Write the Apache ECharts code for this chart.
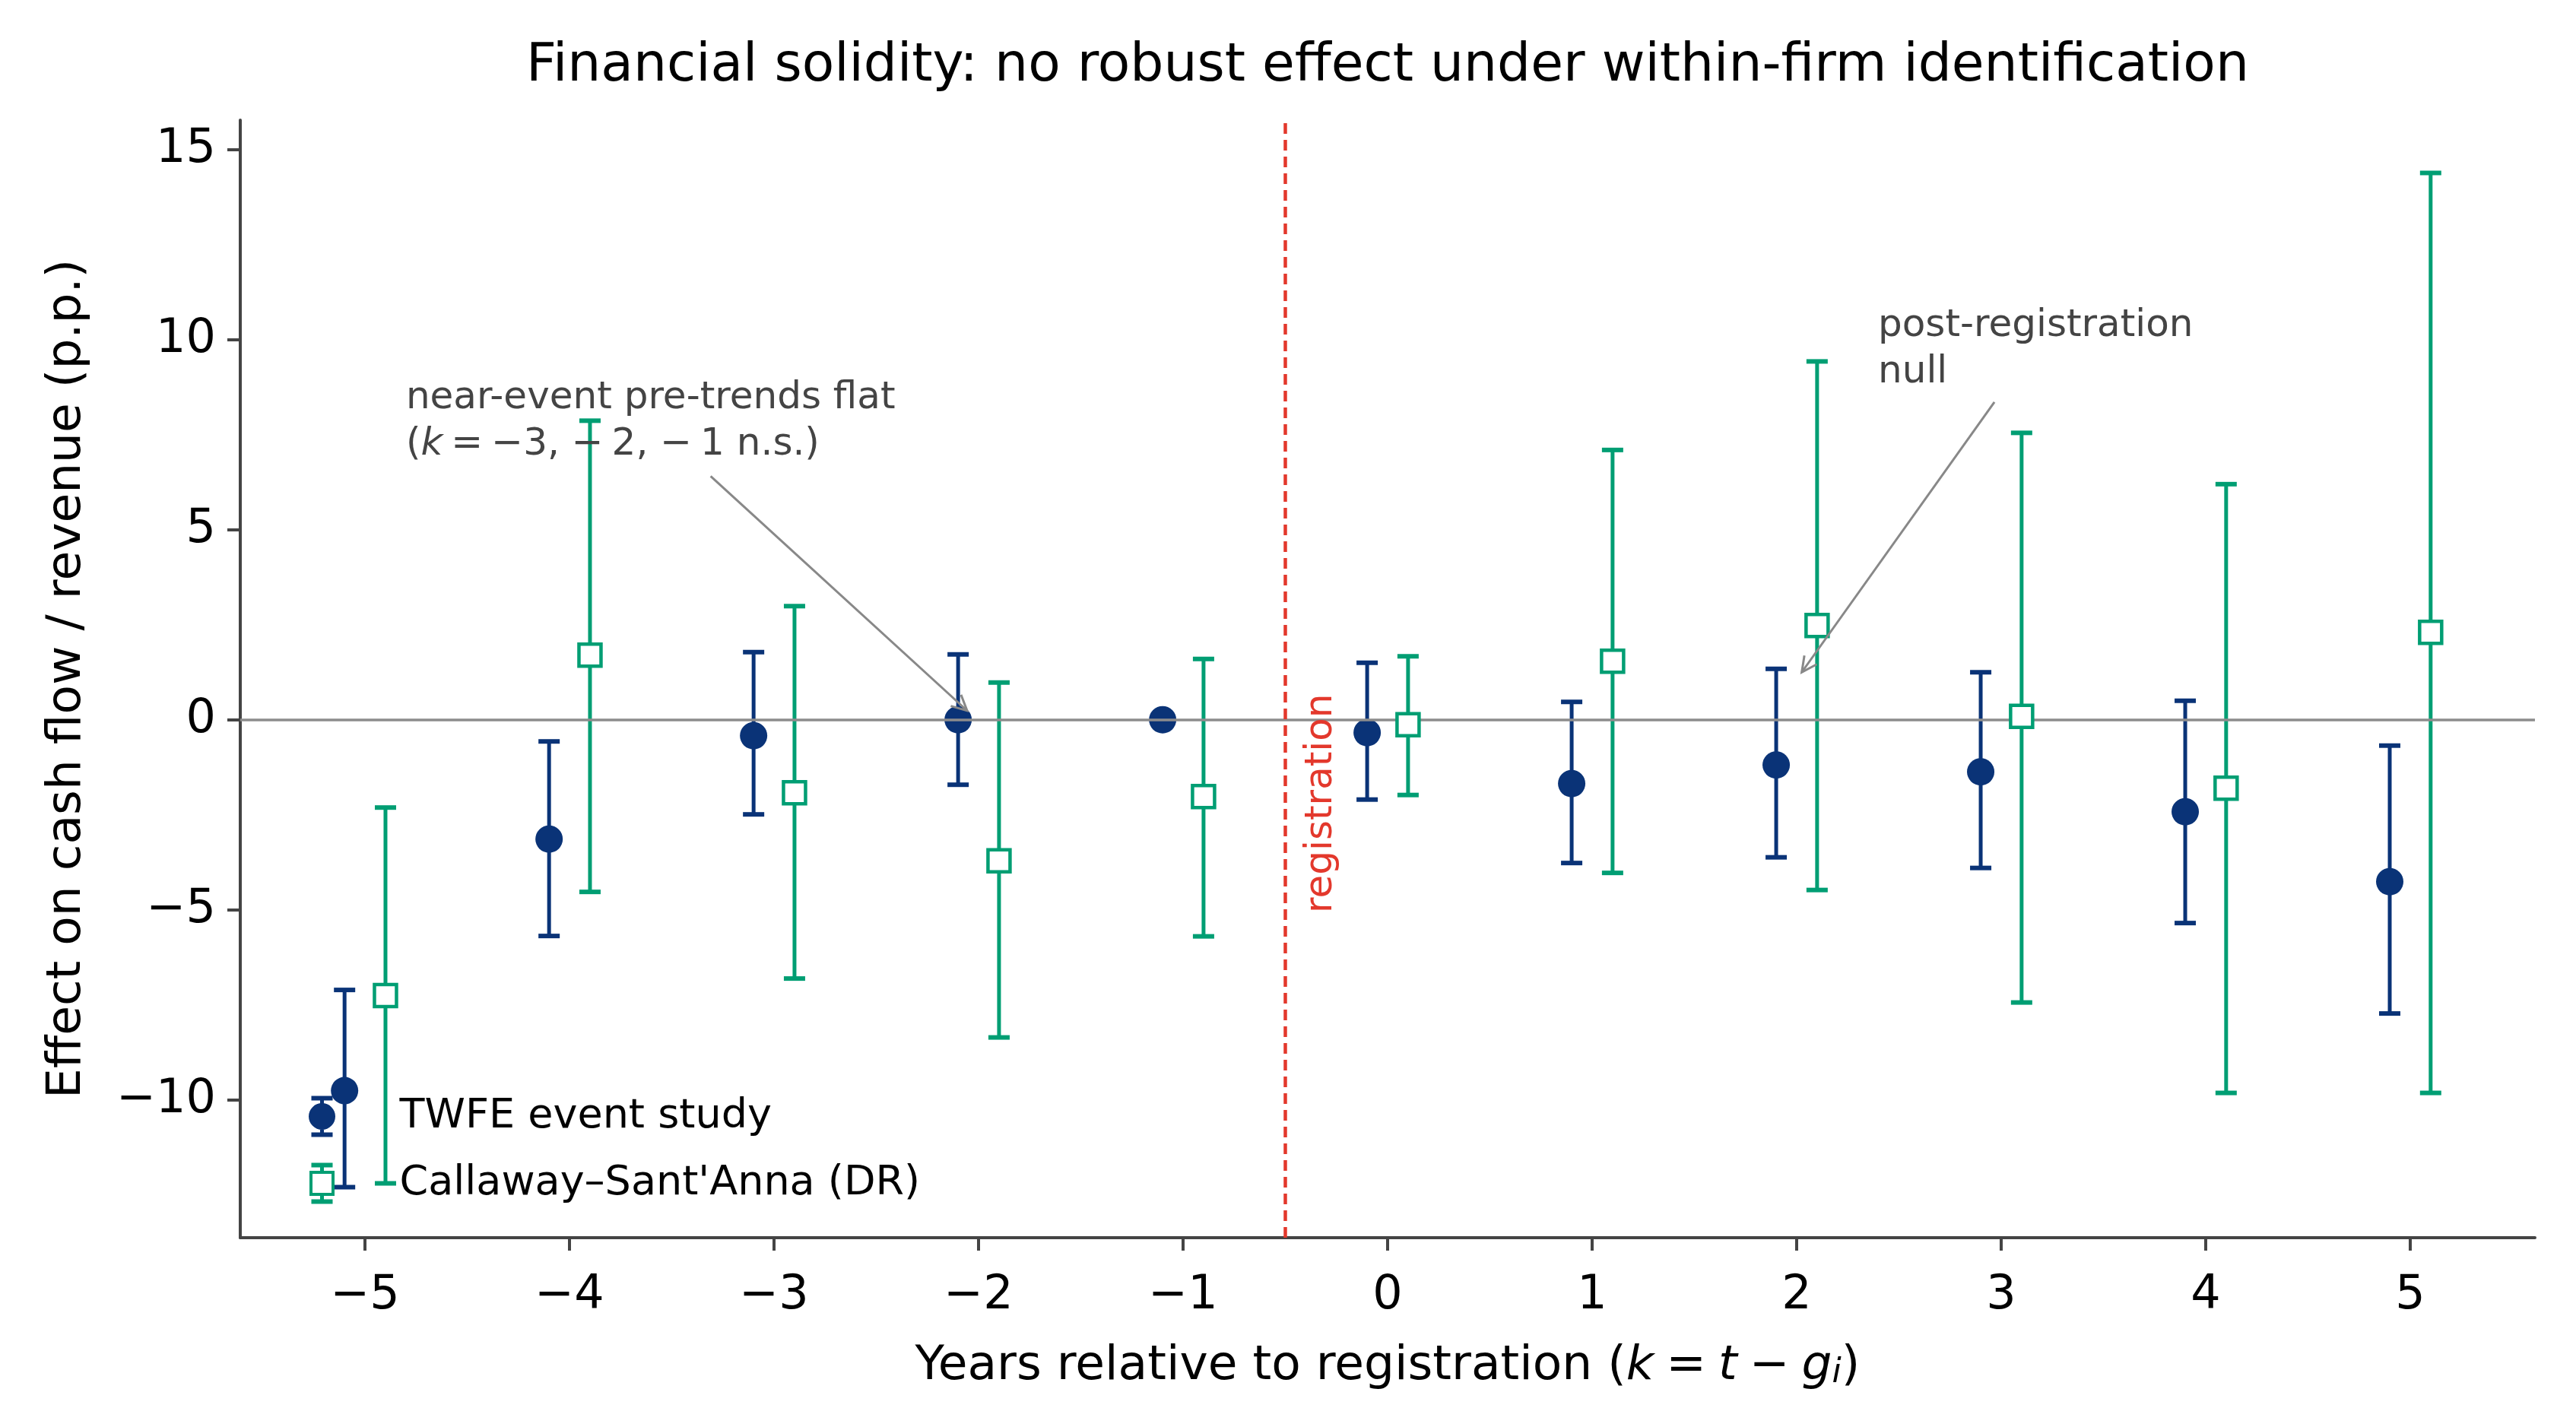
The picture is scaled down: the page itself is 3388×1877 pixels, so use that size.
<!DOCTYPE html>
<html>
<head>
<meta charset="utf-8">
<script src="https://cdn.jsdelivr.net/npm/echarts@6/dist/echarts.min.js"></script>
<style>
html,body{margin:0;padding:0;background:#fff;}
#chart{width:3388px;height:1877px;}
</style>
</head>
<body>
<div id="chart"></div>
<script>
// ---- data ----
const ks = [-5, -4, -3, -2, -1, 0, 1, 2, 3, 4, 5];
const twfeEst = [-9.76, -3.14, -0.42, 0.00, 0.00, -0.34, -1.68, -1.19, -1.37, -2.42, -4.26];
const twfeLo  = [-12.30, -5.69, -2.49, -1.71, null, -2.10, -3.77, -3.62, -3.90, -5.35, -7.73];
const twfeHi  = [-7.11, -0.57, 1.78, 1.72, null, 1.50, 0.47, 1.34, 1.25, 0.50, -0.68];
const csEst = [-7.26, 1.70, -1.92, -3.71, -2.02, -0.13, 1.54, 2.48, 0.09, -1.80, 2.30];
const csLo  = [-12.20, -4.53, -6.81, -8.36, -5.70, -1.98, -4.03, -4.48, -7.44, -9.82, -9.82];
const csHi  = [-2.31, 7.87, 2.99, 0.98, 1.60, 1.67, 7.10, 9.43, 7.55, 6.20, 14.39];
const xTicks = [-5, -4, -3, -2, -1, 0, 1, 2, 3, 4, 5];
const yTicks = [-10, -5, 0, 5, 10, 15];
const seriesNames = ['TWFE event study', 'Callaway\u2013Sant\'Anna (DR)'];
const eventLine = -0.5;

// ---- styling / layout constants ----
const NAVY = '#0a3377';
const GREEN = '#009e73';
const RED = '#e3382c';
const FONT = 'DejaVu Sans';
const DODGE = 0.1;

const fmt = v => (v < 0 ? '\u2212' + Math.abs(v) : String(v));

const twfePts = ks.map((k, i) => [k - DODGE, twfeEst[i]]);
const csPts = ks.map((k, i) => [k + DODGE, csEst[i]]);
const twfeErr = ks.map((k, i) => [k - DODGE, twfeLo[i], twfeHi[i]]).filter(d => d[1] !== null);
const csErr = ks.map((k, i) => [k + DODGE, csLo[i], csHi[i]]).filter(d => d[1] !== null);

function errRender(color) {
  return function (params, api) {
    const x = api.value(0), lo = api.value(1), hi = api.value(2);
    const p1 = api.coord([x, hi]), p2 = api.coord([x, lo]);
    const cw = 14;
    return {
      type: 'group',
      children: [
        { type: 'line', shape: { x1: p1[0], y1: p1[1], x2: p2[0], y2: p2[1] }, style: { stroke: color, lineWidth: 5 } },
        { type: 'line', shape: { x1: p1[0] - cw, y1: p1[1], x2: p1[0] + cw, y2: p1[1] }, style: { stroke: color, lineWidth: 6 } },
        { type: 'line', shape: { x1: p2[0] - cw, y1: p2[1], x2: p2[0] + cw, y2: p2[1] }, style: { stroke: color, lineWidth: 6 } }
      ]
    };
  };
}

const twfeIcon = 'path://M3.5,0H31.5V6H3.5Z M3.5,48H31.5V54H3.5Z M15,0H20V54H15Z M0,27A17.5,17.5 0 1,1 35,27A17.5,17.5 0 1,1 0,27Z';
const csIcon = 'path://M2.5,0H30.5V6H2.5Z M2.5,48H30.5V54H2.5Z M14,0H19V11H14Z M14,43H19V54H14Z M0,10.5H33V43.5H0Z M4,14.5V39.5H29V14.5Z';

const chart = echarts.init(document.getElementById('chart'), null, { renderer: 'canvas' });

const mathRich = {
  n: { fontFamily: FONT, fontSize: 63, lineHeight: 63, color: '#000' },
  i: { fontFamily: FONT, fontSize: 63, lineHeight: 63, color: '#000', fontStyle: 'italic' },
  w: { fontFamily: FONT, fontSize: 63, lineHeight: 63, color: '#000', width: 16 },
  s: { fontFamily: FONT, fontSize: 44, lineHeight: 40, color: '#000', fontStyle: 'italic', verticalAlign: 'bottom' }
};

const option = {
  animation: false,
  backgroundColor: '#ffffff',
  textStyle: { fontFamily: FONT },
  title: {
    text: 'Financial solidity: no robust effect under within-firm identification',
    left: 1825, top: 53, textAlign: 'center', padding: 0,
    textStyle: { fontFamily: FONT, fontSize: 69.5, lineHeight: 69, fontWeight: 'normal', color: '#000' }
  },
  grid: { left: 316, right: 54, top: 158, bottom: 249, containLabel: false },
  legend: {
    orient: 'vertical', left: 406, top: 1441, padding: 0,
    itemWidth: 194, itemHeight: 54, itemGap: 33, selectedMode: false,
    textStyle: { fontFamily: FONT, fontSize: 54, lineHeight: 55, color: '#000' },
    data: [
      { name: seriesNames[0], icon: twfeIcon, itemStyle: { color: NAVY, borderWidth: 0 } },
      { name: seriesNames[1], icon: csIcon, itemStyle: { color: GREEN, borderWidth: 0 } }
    ]
  },
  xAxis: {
    type: 'value', min: -5.61, max: 5.61,
    splitLine: { show: false },
    axisLine: { onZero: false, lineStyle: { color: '#444', width: 4 } },
    axisTick: { show: true, length: 17, customValues: xTicks, lineStyle: { color: '#444', width: 4 } },
    axisLabel: { customValues: xTicks, formatter: fmt, fontFamily: FONT, fontSize: 62, lineHeight: 62, color: '#000', margin: 46 },
    name: '{n|Years relative to registration (}{i|k}{w| }{n|=}{w| }{i|t}{w| }{n|\u2212}{w| }{i|g}{s|i}{n|)}',
    nameLocation: 'middle', nameGap: 138,
    nameTextStyle: { fontFamily: FONT, fontSize: 63, lineHeight: 63, color: '#000', rich: mathRich }
  },
  yAxis: {
    type: 'value', min: -13.63, max: 15.78,
    splitLine: { show: false },
    axisLine: { show: true, onZero: false, lineStyle: { color: '#444', width: 4 } },
    axisTick: { show: true, length: 17, customValues: yTicks, lineStyle: { color: '#444', width: 4 } },
    axisLabel: { customValues: yTicks, formatter: fmt, fontFamily: FONT, fontSize: 62, lineHeight: 62, color: '#000', margin: 32 },
    name: 'Effect on cash flow / revenue (p.p.)',
    nameLocation: 'middle', nameGap: 196,
    nameTextStyle: { fontFamily: FONT, fontSize: 63, lineHeight: 63, color: '#000' }
  },
  series: [
    {
      name: 'refs', type: 'scatter', data: [], z: 1, silent: true,
      markLine: {
        silent: true, symbol: ['none', 'none'], label: { show: false }, animation: false,
        data: [
          { yAxis: 0, lineStyle: { color: '#8c8c8c', width: 3.5, type: 'solid' } },
          { xAxis: eventLine, lineStyle: { color: RED, width: 4.5, type: [14, 8] } }
        ]
      }
    },
    {
      name: seriesNames[0], type: 'custom', renderItem: errRender(NAVY), data: twfeErr,
      encode: { x: 0, y: [1, 2] }, z: 2, silent: true
    },
    {
      name: seriesNames[0], type: 'scatter', data: twfePts, symbol: 'circle', symbolSize: 36,
      itemStyle: { color: NAVY, opacity: 1 }, z: 3, silent: true
    },
    {
      name: seriesNames[1], type: 'custom', renderItem: errRender(GREEN), data: csErr,
      encode: { x: 0, y: [1, 2] }, z: 4, silent: true
    },
    {
      name: seriesNames[1], type: 'scatter', data: csPts, symbol: 'rect', symbolSize: 29,
      itemStyle: { color: '#ffffff', borderColor: GREEN, borderWidth: 4.5, opacity: 1 }, z: 5, silent: true
    }
  ]
};
chart.setOption(option);

// ---- annotations positioned through the axes ----
const ann1Text = [-4.80, 7.85];
const ann1From = [-3.31, 6.41];
const ann1To = [-2.056, 0.24];
const ann2Text = [2.398, 9.75];
const ann2From = [2.967, 8.36];
const ann2To = [2.025, 1.25];
const regLabel = [-0.322, -2.2];

const px = p => chart.convertToPixel({ gridIndex: 0 }, p);

function arrow(from, to) {
  const a = px(from), b = px(to);
  const dx = b[0] - a[0], dy = b[1] - a[1];
  const len = Math.sqrt(dx * dx + dy * dy);
  const ux = dx / len, uy = dy / len;
  const hl = 20, hw = 10;
  const bx = b[0] - ux * hl, by = b[1] - uy * hl;
  const l1 = [bx - uy * hw, by + ux * hw], l2 = [bx + uy * hw, by - ux * hw];
  const st = { stroke: '#888888', lineWidth: 3, fill: null };
  return [
    { type: 'line', z: 50, silent: true, shape: { x1: a[0], y1: a[1], x2: b[0], y2: b[1] }, style: st },
    { type: 'polyline', z: 50, silent: true, shape: { points: [l1, b, l2] }, style: st }
  ];
}

const annRich = {
  a: { fontFamily: FONT, fontSize: 50, lineHeight: 61, fill: '#444444' },
  ai: { fontFamily: FONT, fontSize: 50, lineHeight: 61, fill: '#444444', fontStyle: 'italic' },
  w: { fontFamily: FONT, fontSize: 50, lineHeight: 61, fill: '#444444', width: 11 }
};

const p1 = px(ann1Text), p2 = px(ann2Text), pr = px(regLabel);
const graphics = [].concat(
  arrow(ann1From, ann1To),
  arrow(ann2From, ann2To),
  [
    {
      type: 'text', z: 60, silent: true, x: p1[0], y: p1[1],
      style: {
        text: '{a|near-event pre-trends flat}\n{a|(}{ai|k}{w| }{a|=}{w| }{a|\u22123, \u2212}{w| }{a|2, \u2212}{w| }{a|1 n.s.)}',
        rich: annRich, align: 'left', verticalAlign: 'middle', fontFamily: FONT, fontSize: 50, fill: '#444444'
      }
    },
    {
      type: 'text', z: 60, silent: true, x: p2[0], y: p2[1],
      style: {
        text: '{a|post-registration}\n{a|null}',
        rich: annRich, align: 'left', verticalAlign: 'middle', fontFamily: FONT, fontSize: 50, fill: '#444444'
      }
    },
    {
      type: 'text', z: 60, silent: true, x: pr[0], y: pr[1], rotation: Math.PI / 2,
      style: { text: 'registration', fontFamily: FONT, fontSize: 50, fill: RED, align: 'center', verticalAlign: 'middle' }
    }
  ]
);
chart.setOption({ graphic: graphics });
</script>
</body>
</html>
